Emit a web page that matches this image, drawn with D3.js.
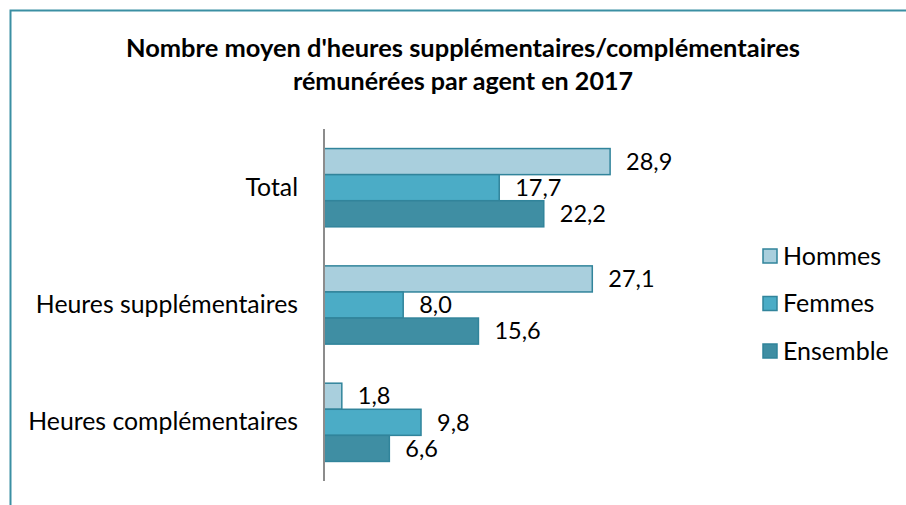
<!DOCTYPE html>
<html><head><meta charset="utf-8">
<script src="https://cdn.jsdelivr.net/npm/d3@7"></script>
<style>body{margin:0;background:#fff}svg{display:block}</style>
</head><body>
<svg id="c" width="906" height="505"></svg>
<script>
const categories = ["Total", "Heures supplémentaires", "Heures complémentaires"];
const seriesNames = ["Hommes", "Femmes", "Ensemble"];
const hommes = [28.9, 27.1, 1.8];
const femmes = [17.7, 8.0, 9.8];
const ensemble = [22.2, 15.6, 6.6];
const titleLines = ["Nombre moyen d'heures supplémentaires/complémentaires", "rémunérées par agent en 2017"];
const colors = ["#a9cfdd", "#4bacc6", "#3f8ea3"];

const font = "Lato, 'Open Sans', sans-serif";
const svg = d3.select("#c");
const values = [hommes, femmes, ensemble];

// frame
svg.append("path").attr("d", "M10.5,505 V10.5 H906").attr("fill", "none")
  .attr("stroke", "#3b8fa3").attr("stroke-width", 2);

// title
svg.append("g").selectAll("text").data(titleLines).join("text")
  .attr("x", 463).attr("y", (d, i) => 57 + i * 33)
  .attr("text-anchor", "middle").attr("font-family", font)
  .attr("font-weight", "bold").attr("font-size", 25).attr("fill", "#000")
  .attr("textLength", (d, i) => i === 0 ? 674 : 340).attr("lengthAdjust", "spacingAndGlyphs")
  .text(d => d);

const x = d3.scaleLinear().domain([0, 30]).range([324, 621]);
const y = d3.scaleBand().domain(categories).range([129, 481]).paddingInner(0.333).paddingOuter(0.1667);
const sub = d3.scaleBand().domain(seriesNames).range([0, y.bandwidth()]);

const g = svg.append("g");
categories.forEach((c, ci) => {
  seriesNames.forEach((s, si) => {
    const v = values[si][ci];
    g.append("rect")
      .attr("x", x(0)).attr("y", y(c) + sub(s))
      .attr("width", x(v) - x(0)).attr("height", sub.bandwidth())
      .attr("fill", colors[si]).attr("stroke", "#31849b").attr("stroke-width", 1.5);
    g.append("text")
      .attr("x", x(v) + 16).attr("y", y(c) + sub(s) + sub.bandwidth() / 2)
      .attr("dy", "0.35em").attr("font-family", font).attr("font-size", 23.5)
      .attr("fill", "#000").text(d3.format(".1f")(v).replace(".", ","));
  });
});

// axis
const yAxis = d3.axisLeft(y).tickSize(0).tickPadding(26);
const ag = svg.append("g").attr("transform", `translate(${x(0)},0)`).call(yAxis);
ag.select(".domain").attr("stroke", "#8c8c8c").attr("stroke-width", 2).attr("d", `M0,${129}V${481}`);
ag.selectAll("text").attr("font-family", font).attr("font-size", 24.8).attr("fill", "#000");

// legend
const lg = svg.append("g");
seriesNames.forEach((s, i) => {
  const yy = 249 + i * 47.5;
  lg.append("rect").attr("x", 763).attr("y", yy).attr("width", 14).attr("height", 14)
    .attr("fill", colors[i]).attr("stroke", "#31849b").attr("stroke-width", 1.5);
  lg.append("text").attr("x", 783).attr("y", yy + 7).attr("dy", "0.35em")
    .attr("font-family", font).attr("font-size", 25).attr("fill", "#000").text(s);
});
</script>
</body></html>
